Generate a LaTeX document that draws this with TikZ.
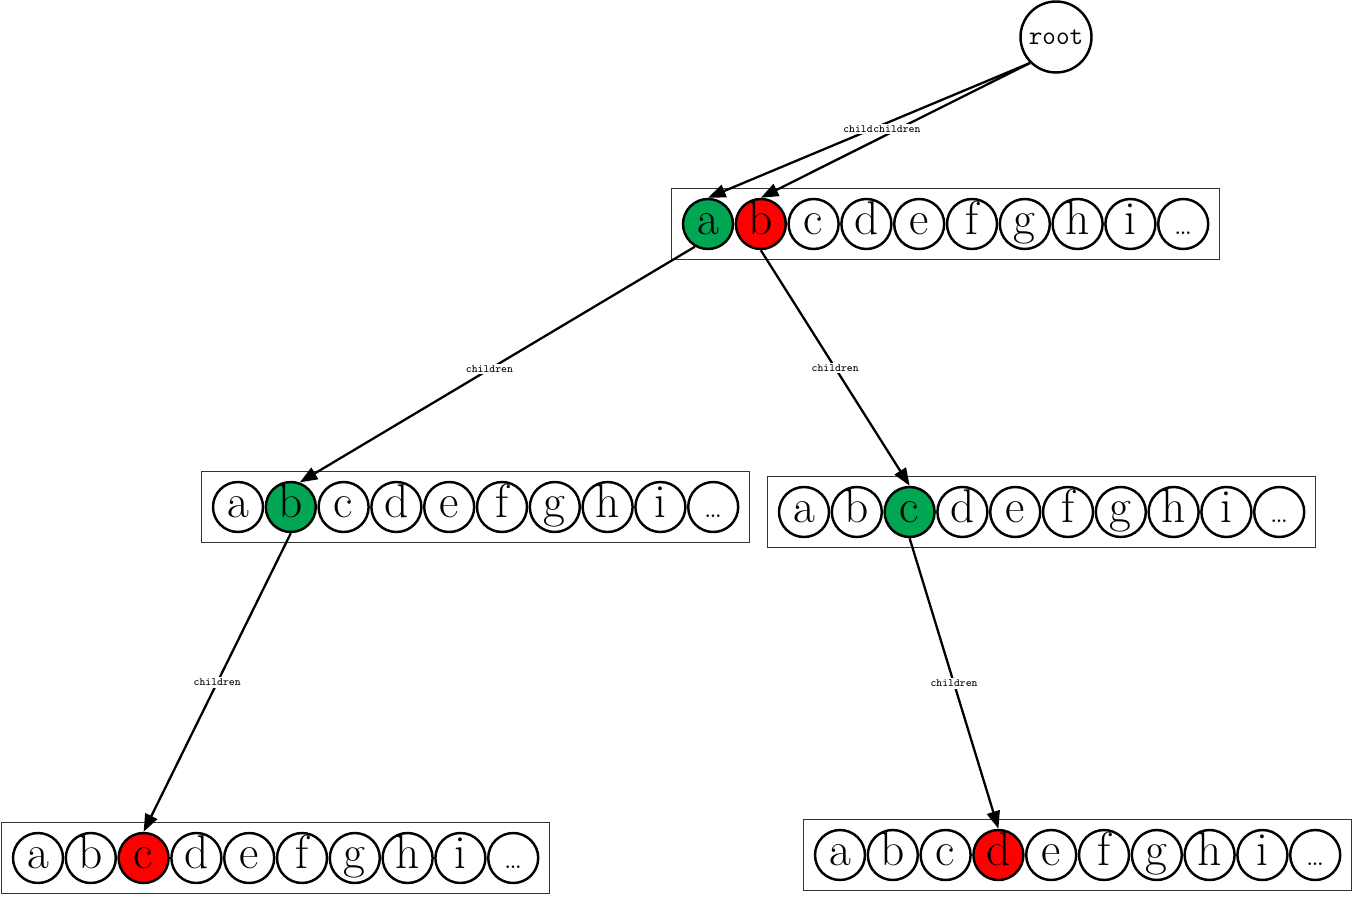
\documentclass[tikz,border=0pt]{standalone}
\usepackage{tikz}
\usetikzlibrary{arrows.meta,fit}
\definecolor{verd}{RGB}{0,166,81}
\definecolor{vermell}{RGB}{255,0,0}
\newcommand{\punts}{{\fontsize{18}{18}\selectfont\dots}}

\begin{document}
\begin{tikzpicture}[x=0.02cm, y=-0.02cm,
    fletxa/.style={-{Triangle[length=10pt,width=7.5pt]}, line width=1.3pt},
    lletra/.style={circle, draw, line width=1.4pt, minimum size=1cm, inner sep=0pt,
      font=\fontsize{27}{27}\selectfont, text height=17pt, text depth=5pt},
    caixa/.style={draw=black!80, line width=0.6pt, inner xsep=0.2cm, inner ysep=0.18cm},
    etiqueta/.style={fill=white, inner sep=1pt, font=\ttfamily\fontsize{6.3}{7}\selectfont}]

\useasboundingbox (0,0) rectangle (1354,906);

% Arrel
\node[circle, draw, line width=1.4pt, minimum size=1.36cm,
      font=\ttfamily\fontsize{15}{15}\selectfont] (root) at (1056,37) {root};

% Fila superior
\foreach \lletr/\omple [count=\i from 0] in {a/verd,b/vermell,c/white,d/white,e/white,f/white,g/white,h/white,i/white,\punts/white}
  \node[lletra, fill=\omple] (t-\i) at (708+52.8*\i,224) {\lletr};
\node[caixa, fit=(t-0)(t-9)] (t) {};

% Fila del mig, esquerra
\foreach \lletr/\omple [count=\i from 0] in {a/white,b/verd,c/white,d/white,e/white,f/white,g/white,h/white,i/white,\punts/white}
  \node[lletra, fill=\omple] (l-\i) at (238+52.8*\i,507) {\lletr};
\node[caixa, fit=(l-0)(l-9)] (l) {};

% Fila del mig, dreta
\foreach \lletr/\omple [count=\i from 0] in {a/white,b/white,c/verd,d/white,e/white,f/white,g/white,h/white,i/white,\punts/white}
  \node[lletra, fill=\omple] (r-\i) at (804+52.8*\i,512) {\lletr};
\node[caixa, fit=(r-0)(r-9)] (r) {};

% Fila inferior, esquerra
\foreach \lletr/\omple [count=\i from 0] in {a/white,b/white,c/vermell,d/white,e/white,f/white,g/white,h/white,i/white,\punts/white}
  \node[lletra, fill=\omple] (ll-\i) at (38+52.8*\i,858) {\lletr};
\node[caixa, fit=(ll-0)(ll-9)] (ll) {};

% Fila inferior, dreta
\foreach \lletr/\omple [count=\i from 0] in {a/white,b/white,c/white,d/vermell,e/white,f/white,g/white,h/white,i/white,\punts/white}
  \node[lletra, fill=\omple] (rr-\i) at (840+52.8*\i,855) {\lletr};
\node[caixa, fit=(rr-0)(rr-9)] (rr) {};

% Arestes
\draw[fletxa] (root.-135) -- (t-0.north);
\draw[fletxa] (root.-135) -- (t-1.north);
\node[etiqueta, anchor=east, inner xsep=0pt] (e-child) at (873,129) {child};
\node[etiqueta, anchor=west, inner xsep=0pt] (e-children) at (873,129) {children};

\draw[fletxa] (t-0.-120) -- (l-1.70)
    node[etiqueta, pos=0.52] (e-l) {children};
\draw[fletxa] (t-1.south) -- (r-2.north)
    node[etiqueta, midway] (e-r) {children};
\draw[fletxa] (l-1.south) -- (ll-2.north)
    node[etiqueta, midway] (e-ll) {children};
\draw[fletxa] (r-2.south) -- (rr-3.north)
    node[etiqueta, midway] (e-rr) {children};

\end{tikzpicture}
\end{document}
